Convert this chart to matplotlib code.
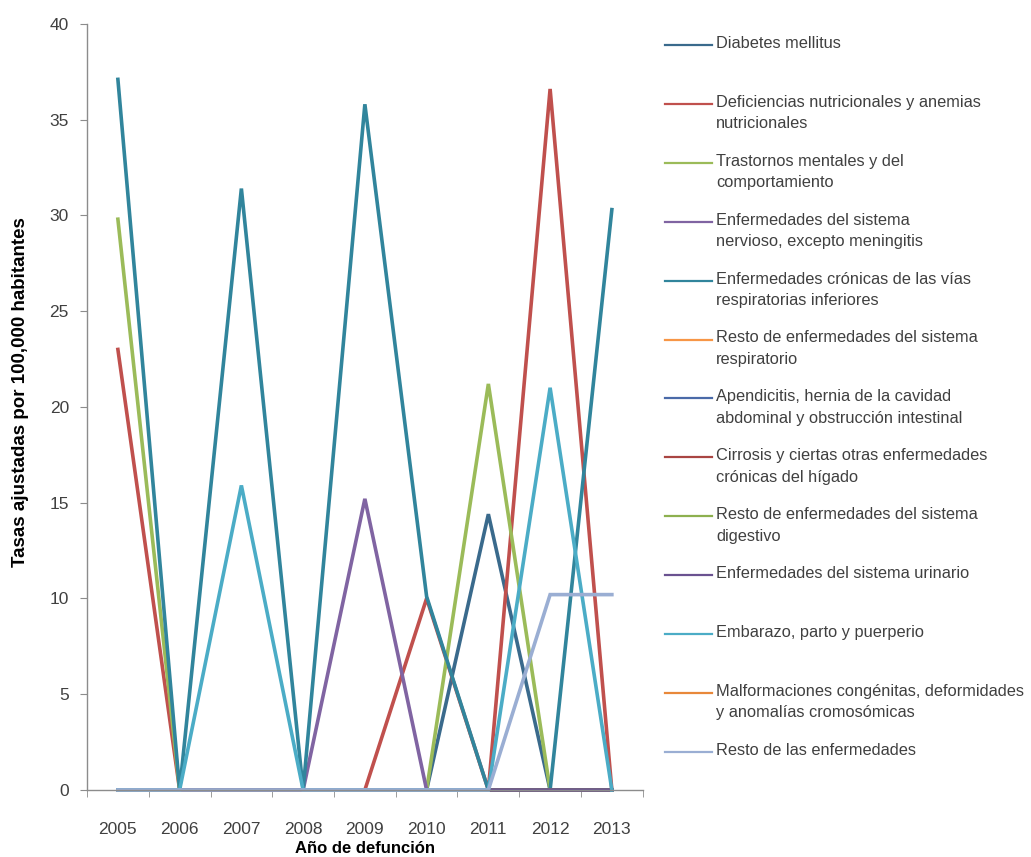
import numpy as np
import matplotlib
matplotlib.use("Agg")
import matplotlib.pyplot as plt
from matplotlib.lines import Line2D

plt.rcParams['font.family'] = ['Liberation Sans', 'DejaVu Sans']

years = ["2005", "2006", "2007", "2008", "2009", "2010", "2011", "2012", "2013"]
nan = np.nan

# tasas por causa, una lista por serie (nan = sin dato)
diabetes = [0, 0, 0, 0, 0, 0, 14.4, 0, 0]
deficiencias = [23.0, 0, 0, 0, 0, 10.0, 0, 36.6, 0]
trastornos = [29.8, 0, 0, 0, 0, 0, 21.2, 0, 0]
nervioso = [0, 0, 0, 0, 15.2, 0, 0, 0, 0]
cronicas_resp = [37.1, 0, 31.4, 0, 35.8, 10.1, 0, 0, 30.3]
resto_resp = [nan, nan, nan, nan, nan, nan, nan, nan, nan]
apendicitis = [0, 0, 0, 0, 0, 0, 0, 0, 0]
cirrosis = [0, 0, 0, 0, 0, 0, 0, 0, 0]
resto_digestivo = [0, 0, 0, 0, 0, 0, 0, 0, 0]
urinario = [0, 0, 0, 0, 0, 0, 0, 0, 0]
embarazo = [0, 0, 15.9, 0, 0, 0, 0, 21.0, 0]
malformaciones = [nan, nan, nan, nan, nan, nan, nan, nan, nan]
resto_enf = [0, 0, 0, 0, 0, 0, 0, 10.2, 10.2]

labels = [
    "Diabetes mellitus",
    "Deficiencias nutricionales y anemias\nnutricionales",
    "Trastornos mentales y del\ncomportamiento",
    "Enfermedades del sistema\nnervioso, excepto meningitis",
    "Enfermedades crónicas de las vías\nrespiratorias inferiores",
    "Resto de enfermedades del sistema\nrespiratorio",
    "Apendicitis, hernia de la cavidad\nabdominal y obstrucción intestinal",
    "Cirrosis y ciertas otras enfermedades\ncrónicas del hígado",
    "Resto de enfermedades del sistema\ndigestivo",
    "Enfermedades del sistema urinario",
    "Embarazo, parto y puerperio",
    "Malformaciones congénitas, deformidades\ny anomalías cromosómicas",
    "Resto de las enfermedades",
]
series = [diabetes, deficiencias, trastornos, nervioso, cronicas_resp, resto_resp,
          apendicitis, cirrosis, resto_digestivo, urinario, embarazo,
          malformaciones, resto_enf]
colors = ["#3A6A8C", "#C0504D", "#9BBB59", "#8064A2", "#31859C", "#F79646",
          "#4A6AA8", "#A94542", "#8DB04F", "#6A5290", "#4BACC6", "#E8883A",
          "#9AAED3"]

txt = "#404040"
axis_c = "#8C8C8C"

fig = plt.figure(figsize=(10.31, 8.57), dpi=100)
ax = fig.add_axes([0.0844, 0.0782, 0.539, 0.894])

x = np.arange(len(years))
for vals, c in zip(series, colors):
    ax.plot(x, vals, color=c, lw=2.6, solid_joinstyle="miter", clip_on=False)

ax.set_xlim(-0.5, len(years) - 0.5)
ax.set_ylim(0, 40)
ax.set_yticks(np.arange(0, 41, 5))
ax.set_xticks(x)
ax.set_xticklabels(years)
ax.set_xticks(np.arange(-0.5, len(years), 1), minor=True)
ax.tick_params(axis="x", which="major", length=0, pad=23, labelsize=12.5, labelcolor=txt)
ax.tick_params(axis="x", which="minor", length=5, color=axis_c, direction="out")
ax.tick_params(axis="y", length=5, color=axis_c, direction="out", pad=8,
               labelsize=12.5, labelcolor=txt)

for s in ["top", "right"]:
    ax.spines[s].set_visible(False)
for s in ["left", "bottom"]:
    ax.spines[s].set_color(axis_c)
    ax.spines[s].set_linewidth(1.0)

ax.set_ylabel("Tasas ajustadas por 100,000 habitantes", fontsize=13.5,
              fontweight="bold", color="black")
ax.yaxis.set_label_coords(-0.104, 0.52)
ax.set_xlabel("Año de defunción", fontsize=12, fontweight="bold", color="black",
              labelpad=3)

# leyenda dibujada a mano a la derecha
W, H = 1031, 857
for i, (lab, c) in enumerate(zip(labels, colors)):
    yp = 45 + 58.9 * i
    fy = 1 - yp / H
    fig.add_artist(Line2D([665 / W, 712 / W], [fy, fy], color=c, lw=1.6))
    fig.text(716 / W, fy + 9 / H, lab, ha="left", va="top", fontsize=11.8,
             color=txt, linespacing=1.55)

fig.savefig("out.png", dpi=100)
